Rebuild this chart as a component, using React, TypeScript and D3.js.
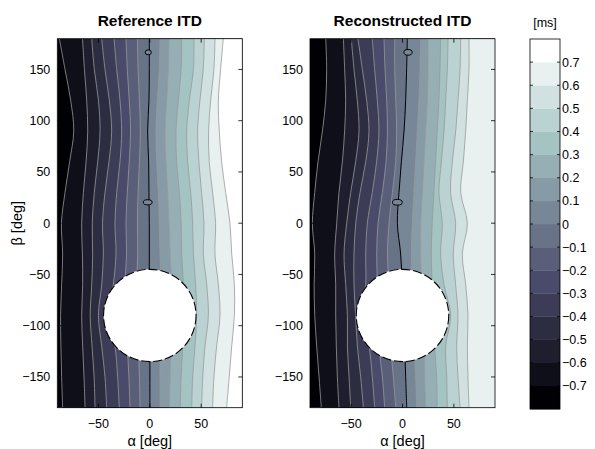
import React from 'react';
import * as d3 from 'd3';

// polar angle samples (deg) at which contour positions were read
const betaSamples = [180, 150, 120, 90, 60, 30, 0, -30, -60, -90, -120, -150, -180];

// Reference ITD: lateral angle (deg) of each iso-ITD contour at each beta sample
const refLevels = [-0.7, -0.6, -0.5, -0.4, -0.3, -0.2, -0.1, 0, 0.1, 0.2, 0.3, 0.4, 0.5, 0.6, 0.7];
const refLines = [
  [-88, -82.5, -77, -74, -78, -82.5, -86, -84.8, -85.8, -86.8, -86.5, -85.8, -84.8],
  [-65.5, -63.6, -61.4, -60.4, -62, -64.6, -66.3, -65.6, -65.3, -66.3, -65.3, -64, -63],
  [-56.5, -54, -50, -48.4, -50.7, -54, -56, -55.6, -56.5, -58, -56.2, -54.2, -53.3],
  [-46.8, -43.6, -39.4, -37.1, -39.7, -43.6, -46, -45.2, -46.8, -50, -46.8, -43.6, -42],
  [-34.8, -32.2, -29, -27.4, -29, -32.2, -33.9, -32.9, -35.5, -40, -33.9, -31.3, -29.7],
  [-23.2, -21.9, -20, -18.7, -20, -21.9, -23.2, -22.6, -24.2, -24, -21.9, -20.3, -19.3],
  [-12.1, -11.4, -10.1, -9.2, -10.1, -11.4, -12.1, -11.8, -12.8, -12, -11.1, -10.1, -9.5],
  [-0.5, -0.5, -0.8, -2.1, -1.1, -0.8, -0.5, -0.5, -0.5, 0, 0.1, 0.1, 0.1],
  [9.9, 9.2, 7.3, 6, 6.6, 8.3, 9.2, 9.9, 10.9, 10, 9.9, 9.9, 9.9],
  [18.7, 18, 16.4, 14.8, 15.7, 17.4, 18.7, 19.7, 21.3, 20, 20.3, 19.7, 19],
  [31, 30.5, 27.8, 25.5, 26.1, 28.8, 30.5, 31, 32.6, 32, 32, 30.5, 29.6],
  [43, 42.4, 38.5, 35.9, 36.9, 39.8, 41.7, 42.4, 44.6, 45.6, 44, 41.7, 40.8],
  [53, 52, 48.8, 46.5, 47.8, 50.4, 52.7, 52.1, 55.4, 57, 53.7, 51.5, 50.4],
  [63.4, 62.4, 59.2, 57.2, 57.8, 61.1, 64, 63.4, 66.7, 68.3, 65, 62.4, 61.1],
  [71.5, 68.9, 66.7, 67.6, 69.9, 73.8, 78, 79.7, 82.3, 82.3, 79.7, 77.3, 74.7],
];

// Reconstructed ITD
const recLevels = [-0.7, -0.6, -0.5, -0.4, -0.3, -0.2, -0.1, 0, 0.1, 0.2, 0.3, 0.4, 0.5, 0.6];
const recLines = [
  [-74.7, -73.8, -74.7, -77.9, -82.2, -85.4, -87.7, -85.4, -86, -85.4, -83.5, -81.2, -79],
  [-57.5, -56.3, -55.3, -56.3, -58.5, -61.8, -64, -66, -65, -65, -64.4, -63.4, -61.8],
  [-49.8, -47.2, -44, -42.3, -45.6, -50.4, -54.3, -56.9, -55.3, -53.6, -53.6, -52, -50.4],
  [-43.3, -39.1, -34.9, -32.6, -35.8, -41.3, -45.5, -47.2, -47.2, -45.6, -43.9, -40.7, -38.1],
  [-29.4, -27.1, -24.5, -22.9, -25.2, -29.4, -34.2, -35.8, -35.8, -40, -32.6, -29.4, -27.1],
  [-18, -17, -15.4, -14.7, -16, -19.6, -23.8, -25.1, -24.5, -24, -22.9, -19.6, -17.4],
  [-7.6, -7.6, -6.6, -5.7, -6.6, -9.8, -13.1, -14.7, -13.1, -12, -11.5, -8.9, -6.6],
  [4.7, 4, 3.1, 1.5, -1.1, -3.4, -5, -1.8, -0.2, 1, 2.1, 3.1, 4.1],
  [17.7, 17, 16, 14.4, 12.8, 11.1, 9.5, 8.6, 9.5, 10, 11.1, 12.8, 13.8],
  [24.8, 24.8, 24.2, 22.5, 20.9, 19.3, 17.7, 17.7, 18.3, 19, 20.9, 21.5, 22.5],
  [37.1, 36.5, 35.5, 33.8, 32.2, 30.5, 28.9, 28, 28.9, 30, 31.2, 33.2, 33.8],
  [44.3, 43.6, 42, 40.4, 37.8, 35.5, 38.7, 37.1, 40.4, 46.9, 42, 43, 43.6],
  [56.6, 56, 54, 51.8, 48.5, 46.8, 51.7, 49.4, 51.7, 54, 52.7, 54, 56],
  [64.7, 64.7, 63.1, 61.5, 59.2, 56.6, 63.1, 58.2, 61.5, 63.7, 63.1, 63.7, 64.7],
];

// small closed zero-contours: [alpha, beta, half-width deg, half-height deg]
const refLoops = [
  [-1.5, 166.7, 3, 2.4],
  [-2, 20.4, 4.3, 2.5],
];
const recLoops = [
  [5.4, 166.7, 4, 2.8],
  [-5, 20.4, 4.8, 2.8],
];

// masked region (no data): centre and radius in degrees
const maskCircle = [0, -90, 45];

const alphaTicks = [-50, 0, 50];
const betaTicks = [-150, -100, -50, 0, 50, 100, 150];
const cbTicks = [-0.7, -0.6, -0.5, -0.4, -0.3, -0.2, -0.1, 0, 0.1, 0.2, 0.3, 0.4, 0.5, 0.6, 0.7];
const cbEdges = [-0.8, -0.7, -0.6, -0.5, -0.4, -0.3, -0.2, -0.1, 0, 0.1, 0.2, 0.3, 0.4, 0.5, 0.6, 0.7, 0.8];

// MATLAB "bone" colormap with n entries
function bone(n: number): string[] {
  const n1 = Math.floor((3 / 8) * n);
  const out: string[] = [];
  for (let i = 1; i <= n; i++) {
    const g = (i - 1) / (n - 1);
    const rh = i <= n1 ? i / n1 : 1;
    const gh = i <= n1 ? 0 : i <= 2 * n1 ? (i - n1) / n1 : 1;
    const bh = i <= 2 * n1 ? 0 : (i - 2 * n1) / (n - 2 * n1);
    const R = (7 * g + bh) / 8, G = (7 * g + gh) / 8, B = (7 * g + rh) / 8;
    out.push(d3.rgb(R * 255, G * 255, B * 255).formatHex());
  }
  return out;
}
const colors = bone(cbEdges.length - 1);
const bandColor = (v: number) => {
  let k = 0;
  for (let i = 0; i < cbEdges.length - 1; i++) if (v >= cbEdges[i] - 1e-9) k = i;
  return colors[k];
};

const FONT = 'Liberation Sans, Arial, Helvetica, sans-serif';
const PY0 = 38.7, PY1 = 407.7, PW = 185;
const TICK_FS = 12.5;

function fmt(v: number) {
  const s = Math.abs(v) < 1e-9 ? '0' : String(+v.toFixed(1));
  return s.replace('-', '\u2212');
}

function Panel({ id, title, x0, levels, lines, loops, yLabel }: any) {
  const x = d3.scaleLinear().domain([-90, 90]).range([x0, x0 + PW]);
  const y = d3.scaleLinear().domain([180, -180]).range([PY0, PY1]);
  const area = d3.area<[number, number]>()
    .y((d) => y(d[1]))
    .x0((d) => x(d[0]))
    .x1(() => x(90) + 2)
    .curve(d3.curveCatmullRom);
  const line = d3.line<[number, number]>()
    .x((d) => x(d[0]))
    .y((d) => y(d[1]))
    .curve(d3.curveCatmullRom);
  const pts = (row: number[]) => row.map((a, i) => [a, betaSamples[i]] as [number, number]);
  const [ca, cb, cr] = maskCircle;
  const tl = 4;
  return (
    <g>
      <defs>
        <clipPath id={id}>
          <rect x={x(-90)} y={PY0} width={PW} height={PY1 - PY0} />
        </clipPath>
      </defs>
      <g clipPath={`url(#${id})`}>
        <rect x={x(-90)} y={PY0} width={PW} height={PY1 - PY0} fill={bandColor(-0.8)} />
        {lines.map((row: number[], i: number) => (
          <path key={'a' + i} d={area(pts(row)) || ''} fill={bandColor(levels[i] + 0.001)} />
        ))}
        {lines.map((row: number[], i: number) => (
          <path key={'l' + i} d={line(pts(row)) || ''} fill="none"
            stroke={Math.abs(levels[i]) < 1e-9 ? '#000' : '#999'}
            strokeWidth={Math.abs(levels[i]) < 1e-9 ? 1 : 0.8} />
        ))}
        {loops.map((l: number[], i: number) => (
          <ellipse key={'o' + i} cx={x(l[0])} cy={y(l[1])}
            rx={x(l[2]) - x(0)} ry={y(0) - y(l[3])}
            fill={bandColor(0.001)} stroke="#000" strokeWidth={1} />
        ))}
        <ellipse cx={x(ca)} cy={y(cb)} rx={x(cr) - x(0)} ry={y(-cr) - y(0)}
          fill="#fff" stroke="#000" strokeWidth={1.1} strokeDasharray="9,3" />
      </g>
      <rect x={x(-90)} y={PY0} width={PW} height={PY1 - PY0} fill="none" stroke="#000" strokeWidth={0.8} />
      {alphaTicks.map((t) => (
        <g key={'xt' + t}>
          <line x1={x(t)} x2={x(t)} y1={PY1} y2={PY1 - tl} stroke="#000" strokeWidth={0.8} />
          <line x1={x(t)} x2={x(t)} y1={PY0} y2={PY0 + tl} stroke="#000" strokeWidth={0.8} />
          <text x={x(t)} y={PY1 + 20.3} textAnchor="middle" fontSize={TICK_FS} fontFamily={FONT}>{fmt(t)}</text>
        </g>
      ))}
      {betaTicks.map((t) => (
        <g key={'yt' + t}>
          <line x1={x(-90)} x2={x(-90) + tl} y1={y(t)} y2={y(t)} stroke="#000" strokeWidth={0.8} />
          <line x1={x(90)} x2={x(90) - tl} y1={y(t)} y2={y(t)} stroke="#000" strokeWidth={0.8} />
          <text x={x(-90) - 7} y={y(t) + 4.5} textAnchor="end" fontSize={TICK_FS} fontFamily={FONT}>{fmt(t)}</text>
        </g>
      ))}
      <text x={x(0)} y={26} textAnchor="middle" fontSize={15.5} fontWeight="bold" fontFamily={FONT}>{title}</text>
      <text x={x(0)} y={446} textAnchor="middle" fontSize={14.5} fontFamily={FONT}>α [deg]</text>
      {yLabel && (
        <text transform={`translate(${x(-90) - 35},${y(0)}) rotate(-90)`} textAnchor="middle" fontSize={14.5} fontFamily={FONT}>β [deg]</text>
      )}
    </g>
  );
}

function Colorbar() {
  const cx0 = 530, cw = 30;
  const yc = d3.scaleLinear().domain([-0.8, 0.8]).range([409, 39]);
  return (
    <g>
      {colors.map((c, i) => (
        <rect key={i} x={cx0} y={yc(cbEdges[i + 1])} width={cw} height={yc(cbEdges[i]) - yc(cbEdges[i + 1]) + 0.3} fill={c} />
      ))}
      <rect x={cx0} y={yc(0.8)} width={cw} height={yc(-0.8) - yc(0.8)} fill="none" stroke="#000" strokeWidth={0.8} />
      {cbTicks.map((t) => (
        <g key={t}>
          <line x1={cx0} x2={cx0 + 3} y1={yc(t)} y2={yc(t)} stroke="#000" strokeWidth={0.8} />
          <line x1={cx0 + cw} x2={cx0 + cw - 3} y1={yc(t)} y2={yc(t)} stroke="#000" strokeWidth={0.8} />
          <text x={cx0 + cw + 2} y={yc(t) + 4.5} fontSize={TICK_FS} fontFamily={FONT}>{fmt(t)}</text>
        </g>
      ))}
      <text x={cx0 + cw / 2} y={27} textAnchor="middle" fontSize={12.5} fontFamily={FONT}>[ms]</text>
    </g>
  );
}

export default function App() {
  return (
    <svg width={595} height={449} style={{ position: 'absolute', left: 0, top: 0, background: '#fff' }}>
      <rect width={595} height={449} fill="#fff" />
      <Panel id="clipRef" title="Reference ITD" x0={57.3} levels={refLevels} lines={refLines} loops={refLoops} yLabel />
      <Panel id="clipRec" title="Reconstructed ITD" x0={310} levels={recLevels} lines={recLines} loops={recLoops} yLabel={false} />
      <Colorbar />
    </svg>
  );
}
